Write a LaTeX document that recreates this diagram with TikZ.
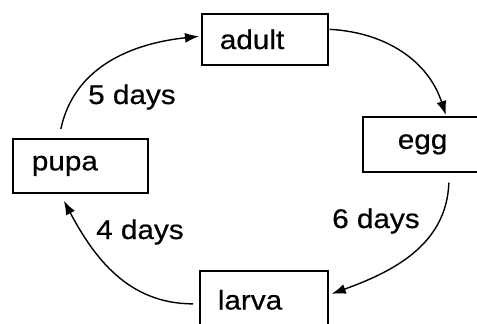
\documentclass[tikz,border=0pt]{standalone}
\usepackage{fontspec}
\setmainfont[FakeStretch=1.1,FakeBold=0.6]{Liberation Sans}
\usetikzlibrary{arrows.meta}
\begin{document}
\begin{tikzpicture}[x=1pt,y=-1pt,
  stagebox/.style={draw, line width=1.7pt, anchor=north west, align=left,
    font=\fontsize{27}{32}\selectfont, inner ysep=0pt},
  daylabel/.style={anchor=base west, inner sep=0pt, font=\fontsize{27}{32}\selectfont},
  arr/.style={line width=1.4pt, -{Latex[length=14pt,width=10pt]}}]
\useasboundingbox (0,0) rectangle (477,324);
\node[stagebox, minimum width=126pt, minimum height=51pt, inner xsep=18pt, text width=90pt] (adult) at (201,13) {adult};
\node[stagebox, minimum width=125pt, minimum height=55pt, inner xsep=35pt, text width=55pt] (egg) at (362,116) {egg};
\node[stagebox, minimum width=135pt, minimum height=54pt, inner xsep=19pt, text width=97pt] (pupa) at (12,138) {pupa};
\node[stagebox, minimum width=128pt, minimum height=58pt, inner xsep=18pt, text width=92pt] (larva) at (199,270) {larva};
\node[daylabel] (l5) at (88,104) {5 days};
\node[daylabel] (l4) at (96,239) {4 days};
\node[daylabel] (l6) at (332,228) {6 days};
\draw[arr] ([xshift=-19.5pt,yshift=9pt]pupa.north) to[out=78,in=186] ([xshift=-2pt,yshift=3pt]adult.west);
\draw[arr] ([xshift=1pt,yshift=10pt]adult.east) to[out=-3,in=108] ([xshift=20.5pt,yshift=1pt]egg.north);
\draw[arr] ([xshift=23.5pt,yshift=-10pt]egg.south) to[out=-92,in=20] ([xshift=3pt,yshift=6pt]larva.east);
\draw[arr] ([xshift=-6pt,yshift=-4pt]larva.west) to[out=180,in=-62] ([xshift=-16.5pt,yshift=-7pt]pupa.south);
\end{tikzpicture}
\end{document}
